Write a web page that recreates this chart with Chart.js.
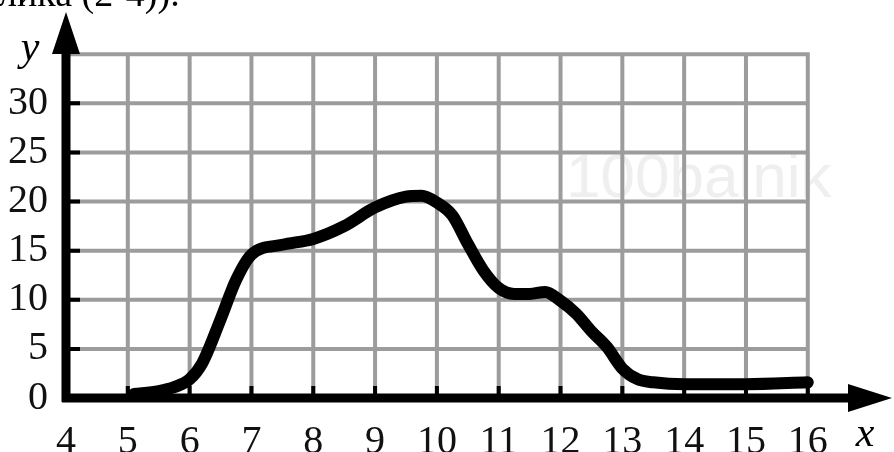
<!DOCTYPE html>
<html>
<head>
<meta charset="utf-8">
<script src="https://cdn.jsdelivr.net/npm/chart.js@4/dist/chart.umd.min.js"></script>
<style>
  html, body { margin: 0; padding: 0; background: #fff; }
  #wrap { width: 894px; height: 452px; position: relative; }
</style>
</head>
<body>
<div id="wrap"><canvas id="graph"></canvas></div>
<script>
// values
const xValues = [5.1, 5.5, 5.75, 6, 6.2, 6.5, 6.75, 7, 7.5, 8, 8.5, 9, 9.5, 9.75, 10, 10.25, 10.5, 10.75, 11, 11.25, 11.5, 11.75, 12, 12.25, 12.5, 12.75, 13, 13.25, 13.5, 14, 15, 16];
const yValues = [0.4, 0.7, 1.1, 1.9, 3.5, 8, 12, 14.6, 15.6, 16.2, 17.5, 19.4, 20.5, 20.6, 19.9, 18.6, 15.7, 13, 11.2, 10.6, 10.6, 10.8, 9.9, 8.6, 6.8, 5.2, 3, 1.9, 1.6, 1.4, 1.4, 1.6];
const xTicks = [4, 5, 6, 7, 8, 9, 10, 11, 12, 13, 14, 15, 16];
const yTicks = [0, 5, 10, 15, 20, 25, 30];

const points = xValues.map((x, i) => ({ x: x, y: yValues[i] }));
const gridMaxX = 16, gridMaxY = 35;
const serif = '"Liberation Serif", "DejaVu Serif", serif';

const axesPlugin = {
  id: 'axesPlugin',
  beforeDatasetsDraw(chart) {
    const ctx = chart.ctx;
    const sx = chart.scales.x, sy = chart.scales.y;
    const x0 = sx.getPixelForValue(4), x1 = sx.getPixelForValue(gridMaxX);
    const y0 = sy.getPixelForValue(0), y1 = sy.getPixelForValue(gridMaxY);
    ctx.save();
    // watermark
    ctx.fillStyle = '#efefef';
    ctx.font = '62px "Liberation Sans", Arial, sans-serif';
    ctx.textBaseline = 'alphabetic';
    ctx.fillText('100balnik', 566, 197);
    // grid
    ctx.strokeStyle = '#9c9c9c';
    ctx.lineWidth = 4;
    ctx.beginPath();
    for (let v = 5; v <= gridMaxX; v++) {
      const px = sx.getPixelForValue(v);
      ctx.moveTo(px, y0); ctx.lineTo(px, y1 - 2);
    }
    for (let v = 5; v <= gridMaxY; v += 5) {
      const py = sy.getPixelForValue(v);
      ctx.moveTo(x0, py); ctx.lineTo(x1 + 2, py);
    }
    ctx.stroke();
    ctx.restore();
  },
  afterDatasetsDraw(chart) {
    const ctx = chart.ctx;
    const sx = chart.scales.x, sy = chart.scales.y;
    const ax = sx.getPixelForValue(4), ay = sy.getPixelForValue(0);
    ctx.save();
    ctx.fillStyle = '#000';
    ctx.strokeStyle = '#000';
    // axes lines
    ctx.lineWidth = 9;
    ctx.beginPath();
    ctx.moveTo(ax - 4, ay); ctx.lineTo(chart.chartArea.right - 30, ay);
    ctx.moveTo(ax, ay + 4); ctx.lineTo(ax, chart.chartArea.top + 30);
    ctx.stroke();
    // arrow heads
    ctx.beginPath();
    ctx.moveTo(chart.chartArea.right + 2, ay);
    ctx.lineTo(chart.chartArea.right - 42, ay - 14);
    ctx.lineTo(chart.chartArea.right - 42, ay + 14);
    ctx.closePath();
    ctx.moveTo(ax, chart.chartArea.top);
    ctx.lineTo(ax - 14, chart.chartArea.top + 42);
    ctx.lineTo(ax + 14, chart.chartArea.top + 42);
    ctx.closePath();
    ctx.fill();
    // tick marks
    ctx.lineWidth = 4;
    ctx.beginPath();
    for (let v = 5; v <= gridMaxX; v++) {
      const px = sx.getPixelForValue(v);
      ctx.moveTo(px, ay); ctx.lineTo(px, ay - 12);
    }
    for (let v = 5; v <= 30; v += 5) {
      const py = sy.getPixelForValue(v);
      ctx.moveTo(ax, py); ctx.lineTo(ax + 14, py);
    }
    ctx.stroke();
    // axis names and cut off heading
    ctx.font = 'italic 42px ' + serif;
    ctx.textAlign = 'center';
    ctx.fillText('y', 30, 60);
    ctx.fillText('x', 865, 446);
    ctx.font = '38px ' + serif;
    ctx.textAlign = 'left';
    ctx.fillText('лика (2-4)).', -2, 6);
    ctx.restore();
  }
};

new Chart(document.getElementById('graph'), {
  type: 'line',
  data: {
    datasets: [{
      data: points,
      borderColor: '#000',
      borderWidth: 12,
      borderCapStyle: 'round',
      borderJoinStyle: 'round',
      tension: 0.4,
      cubicInterpolationMode: 'monotone',
      pointRadius: 0,
      fill: false
    }]
  },
  options: {
    responsive: true,
    maintainAspectRatio: false,
    animation: false,
    layout: { padding: { top: 12, right: 4, left: 0, bottom: 0 } },
    plugins: { legend: { display: false }, tooltip: { enabled: false } },
    scales: {
      x: {
        type: 'linear',
        min: 4,
        max: 17.33,
        border: { display: false },
        grid: { display: false },
        afterFit: s => { s.height = 54; s.paddingLeft = 0; s.paddingRight = 0; },
        afterBuildTicks: s => { s.ticks = xTicks.map(v => ({ value: v })); },
        ticks: {
          color: '#111',
          padding: 12,
          maxRotation: 0,
          autoSkip: false,
          font: { family: serif, size: 40 }
        }
      },
      y: {
        type: 'linear',
        min: 0,
        max: 39.3,
        border: { display: false },
        grid: { display: false },
        afterFit: s => { s.width = 66; s.paddingTop = 0; s.paddingBottom = 0; },
        afterBuildTicks: s => { s.ticks = yTicks.map(v => ({ value: v })); },
        ticks: {
          color: '#111',
          padding: 10,
          font: { family: serif, size: 40 }
        }
      }
    }
  },
  plugins: [axesPlugin]
});
</script>
</body>
</html>
